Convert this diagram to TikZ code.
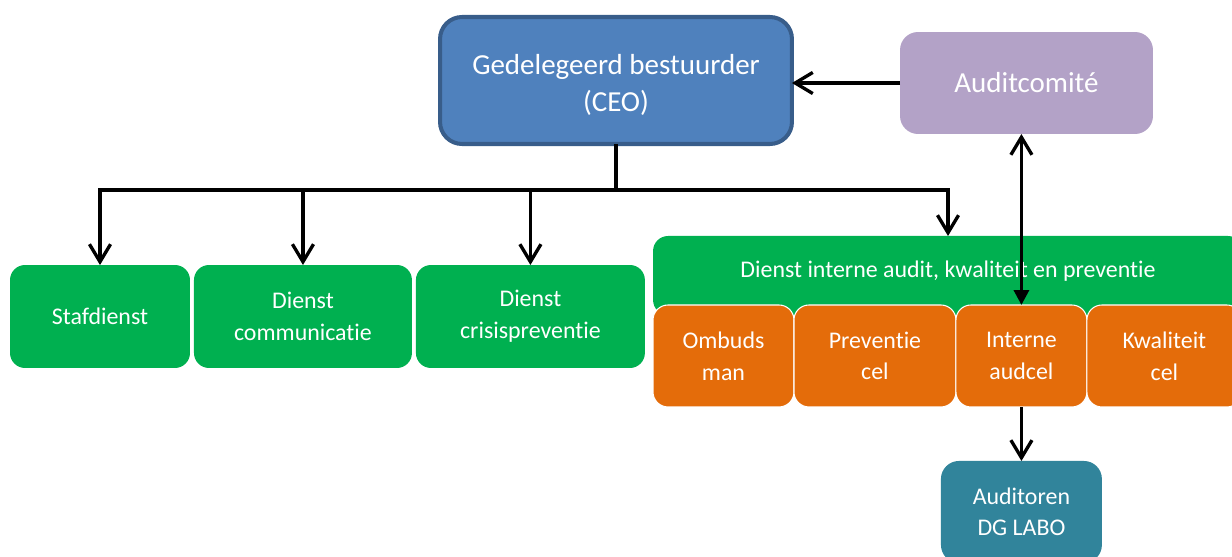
\documentclass[tikz,border=0pt]{standalone}
\usepackage{fontspec}
\setmainfont{Carlito}[Ligatures=NoCommon]
\usetikzlibrary{arrows.meta,positioning,calc}

\definecolor{ceoblue}{HTML}{4F81BD}
\definecolor{ceoborder}{HTML}{385D8A}
\definecolor{lila}{HTML}{B3A2C7}
\definecolor{groen}{HTML}{00B050}
\definecolor{oranje}{HTML}{E46C0A}
\definecolor{petrol}{HTML}{31849B}

\begin{document}
\begin{tikzpicture}[x=0.02cm, y=-0.02cm, >={Straight Barb[length=10pt,width=12pt]},
  box/.style={rounded corners=0.3cm, text=white, align=center, inner sep=0pt, outer sep=0pt},
  bigtext/.style={font=\fontsize{16.5}{21}\selectfont},
  smalltext/.style={font=\fontsize{13.6}{18}\selectfont},
  dienst/.style={box, smalltext, fill=groen, minimum height=2.06cm},
  cel/.style={box, smalltext, fill=oranje, draw=white, line width=0.6pt, minimum height=2.04cm},
  pijl/.style={->, line width=1.9pt}]

  \useasboundingbox (0,0) rectangle (1232,557);

  % Define nodes
  \node (ceo) [box, bigtext, rounded corners=0.44cm, fill=ceoblue, draw=ceoborder, line width=2.3pt,
    minimum width=7.04cm, minimum height=2.54cm, text height=35pt, text depth=0pt] at (616,80.5) {Gedelegeerd bestuurder\\(CEO)};
  \node (comite) [box, bigtext, rounded corners=0.36cm, fill=lila,
    minimum width=5.06cm, minimum height=2.04cm] at (1026.5,83) {Auditcomité};

  \node (staf) [dienst, minimum width=3.6cm] at (100,316.5) {Stafdienst};
  \node (comm) [dienst, minimum width=4.36cm, right=0.08cm of staf] {Dienst\\communicatie};
  \node (crisis) [dienst, minimum width=4.58cm, right=0.08cm of comm] {Dienst\\crisispreventie};

  \node (diak) [box, smalltext, fill=groen, anchor=north, minimum width=11.8cm,
    text height=0.84cm, text depth=0.74cm] at (948,236) {Dienst interne audit, kwaliteit en preventie};

  \node (ombuds) [cel, minimum width=2.82cm, anchor=north west] at (653,305) {Ombuds\\man};
  \node (prev) [cel, minimum width=3.24cm, right=0pt of ombuds] {Preventie\\cel};
  \node (interne) [cel, minimum width=2.62cm, right=0pt of prev] {Interne\\audcel};
  \node (kwal) [cel, minimum width=3.1cm, right=0pt of interne] {Kwaliteit\\cel};

  \node (auditoren) [box, smalltext, rounded corners=0.36cm, fill=petrol,
    minimum width=3.22cm, minimum height=2.04cm, below=1.08cm of interne] {Auditoren\\DG LABO};

  \coordinate (split) at (616,190);

  % Draw arrows
  \draw[line width=1.9pt] (ceo.south) -- (split);
  \draw[pijl] (split) -| (staf.north);
  \draw[pijl] (split) -| (comm.north);
  \draw[pijl] (split) -| (crisis.north);
  \draw[pijl] (split) -| (diak.north);
  \draw[pijl] (comite.west) -- (comite.west -| ceo.east);
  \draw[{Straight Barb[length=10pt,width=12pt]}-{Triangle[length=8.5pt,width=8.5pt]}, line width=1.9pt]
    (interne.north |- comite.south) -- (interne.north);
  \draw[pijl] (interne.south) -- (auditoren.north);
\end{tikzpicture}
\end{document}
